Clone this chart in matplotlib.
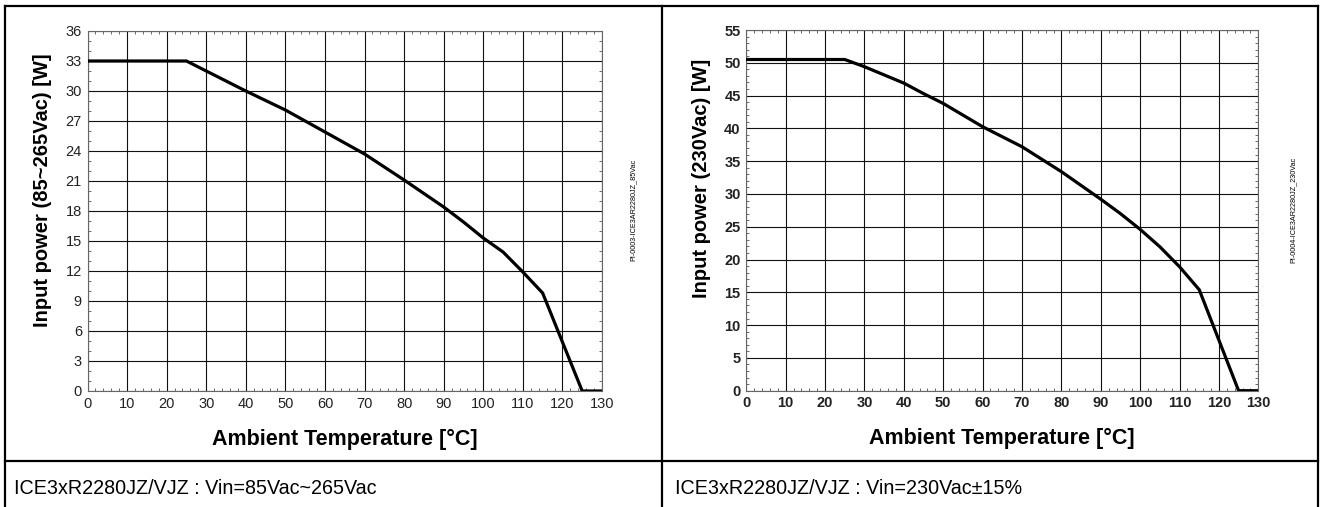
import matplotlib.pyplot as plt
from matplotlib.lines import Line2D
from matplotlib.ticker import MultipleLocator

plt.rcParams['font.family'] = ['Liberation Sans', 'DejaVu Sans']

# Courbe de gauche : 85Vac~265Vac
temp_85 = [0, 25, 30, 40, 50, 60, 70, 80, 90, 95, 100, 105, 110, 115, 125, 130]
power_85 = [33, 33, 32, 30, 28.1, 25.9, 23.7, 21.1, 18.4, 16.9, 15.3, 13.9, 11.9, 9.8, 0, 0]

# Courbe de droite : 230Vac
temp_230 = [0, 25, 30, 40, 45, 50, 60, 70, 80, 90, 95, 100, 105, 110, 115, 125, 130]
power_230 = [50.5, 50.5, 49.4, 46.9, 45.3, 43.8, 40.25, 37.2, 33.4, 29.2, 27.0, 24.6, 21.95, 18.9, 15.4, 0, 0]

x_ticks = list(range(0, 131, 10))
y_ticks_85 = list(range(0, 37, 3))
y_ticks_230 = list(range(0, 56, 5))

captions = ["ICE3xR2280JZ/VJZ : Vin=85Vac~265Vac", "ICE3xR2280JZ/VJZ : Vin=230Vac\u00b115%"]
side_labels = ["PI-0003-ICE3AR2280JZ_85Vac", "PI-0004-ICE3AR2280JZ_230Vac"]
y_labels = ["Input power (85~265Vac) [W]", "Input power (230Vac) [W]"]

W, H = 1320, 507
fig = plt.figure(figsize=(W / 100, H / 100), dpi=100)


def px(x, y):
    # pixels -> coordonnées figure
    return x / W, 1 - y / H


def make_axes(left, right, top, bottom):
    x0, y0 = px(left, bottom)
    x1, y1 = px(right, top)
    return fig.add_axes([x0, y0, x1 - x0, y1 - y0])


ax1 = make_axes(87.5, 602, 31, 391)
ax2 = make_axes(746.3, 1258.3, 30, 390.7)

setups = [
    (ax1, temp_85, power_85, y_ticks_85, 36, 'normal', 0, 0.558),
    (ax2, temp_230, power_230, y_ticks_230, 55, 'bold', 1, 0.59),
]

for ax, xs, ys, yt, ymax, tick_weight, i, ylab_pos in setups:
    ax.plot(xs, ys, color='black', lw=2.3, solid_joinstyle='miter', zorder=3)
    ax.set_xlim(0, 130)
    ax.set_ylim(0, ymax)
    ax.set_xticks(x_ticks)
    ax.set_yticks(yt)
    ax.xaxis.set_minor_locator(MultipleLocator(2))
    ax.yaxis.set_minor_locator(MultipleLocator(1))
    ax.grid(True, which='major', color='#111111', lw=0.8)
    ax.tick_params(which='major', length=0, labelsize=10.5, pad=4)
    ax.tick_params(which='minor', direction='in', length=2, width=0.6,
                   top=True, right=True, color='#555555')
    for lab in ax.get_xticklabels() + ax.get_yticklabels():
        lab.set_fontweight(tick_weight)
        lab.set_color('#222222')
    for s in ax.spines.values():
        s.set_color('#666666')
        s.set_linewidth(0.8)
    ax.set_xlabel("Ambient Temperature [\u00b0C]", fontsize=15.5, fontweight='bold', labelpad=13)
    ax.set_ylabel(y_labels[i], fontsize=14.5, fontweight='bold')
    ax.yaxis.set_label_coords(-35 / 512, ylab_pos)

# Textes verticaux sur le côté
fig.text(*px(633, 210), side_labels[0], rotation=90, fontsize=5.2, ha='center', va='center')
fig.text(*px(1293, 210), side_labels[1], rotation=90, fontsize=5.2, ha='center', va='center')

# Légendes du bas
fig.text(*px(14, 488), captions[0], fontsize=14.2, ha='left', va='center')
fig.text(*px(675, 488), captions[1], fontsize=14.2, ha='left', va='center')

# Cadre du tableau
frame = [
    ((4.5, 1318), (5.5, 5.5)),
    ((4.5, 4.5), (5.5, 507)),
    ((1318, 1318), (5.5, 507)),
    ((662, 662), (5.5, 507)),
    ((4.5, 1318), (461, 461)),
]
for xs, ys in frame:
    fig.add_artist(Line2D([x / W for x in xs], [1 - y / H for y in ys],
                          color='black', lw=1.6, transform=fig.transFigure))

fig.savefig("out.png", dpi=100)
